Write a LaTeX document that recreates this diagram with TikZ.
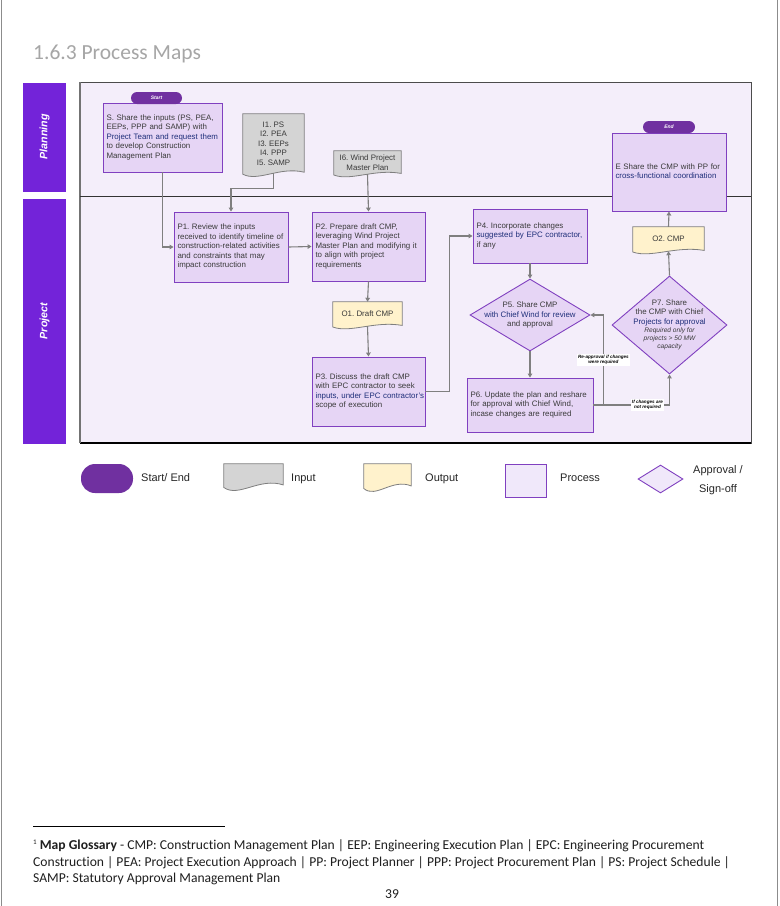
\documentclass[tikz,border=0pt]{standalone}
\usepackage{fontspec}
\setmainfont{Liberation Sans}
\newfontfamily\aptos[Ligatures=NoCommon]{Carlito}
\usetikzlibrary{shapes.geometric,arrows.meta,calc}
\frenchspacing
\definecolor{lanec}{HTML}{7323D9}
\definecolor{pillc}{HTML}{7030A0}
\definecolor{framec}{HTML}{F4EEFA}
\definecolor{boxc}{HTML}{E6D5F5}
\definecolor{boxb}{HTML}{8040C0}
\definecolor{docg}{HTML}{D4D4D4}
\definecolor{docb}{HTML}{7F7F7F}
\definecolor{outc}{HTML}{FFF2CC}
\definecolor{arrc}{HTML}{7F7F7F}
\definecolor{txtc}{HTML}{3A3A3A}
\definecolor{navy}{HTML}{1F2F7A}
\definecolor{titlec}{HTML}{A6A6A6}
\definecolor{legbox}{HTML}{F0E8FA}
\pgfdeclarelayer{back}
\pgfdeclarelayer{bg}
\pgfsetlayers{back,bg,main}
\newcommand{\txtlines}[1]{\begin{tabular}{@{}l@{}}#1\end{tabular}}
\newcommand{\docshape}[4]{%
  \begin{pgfonlayer}{bg}
  \filldraw[fill=#2, draw=#3, line width=0.8pt]
    (#1.north west) -- ([yshift=-1*#4pt]#1.south west)
    .. controls ([yshift=-9*#4pt]$(#1.south west)!0.25!(#1.south east)$)
    and ([yshift=7*#4pt]$(#1.south west)!0.6!(#1.south east)$)
    .. ([yshift=1*#4pt]#1.south east) -- (#1.north east) -- cycle;
  \end{pgfonlayer}}
\tikzset{
  conn/.style={draw=arrc, line width=1.1pt, -{Triangle[width=4.5pt,length=4pt]}},
  proc/.style={rectangle, draw=boxb, fill=boxc, line width=0.9pt, inner xsep=3.5pt, inner ysep=0pt,
    align=left, font=\fontsize{7.9}{9.5}\selectfont, text=txtc},
  docnode/.style={rectangle, inner sep=0pt, align=center, font=\fontsize{7.9}{9.5}\selectfont, text=txtc},
  dia/.style={diamond, draw=boxb, fill=boxc, line width=0.9pt, inner sep=0pt},
  dtext/.style={align=center, font=\fontsize{7.9}{9.5}\selectfont, text=txtc},
  pill/.style={rectangle, rounded corners=6pt, fill=pillc, inner sep=0pt,
    font=\fontsize{5}{6}\selectfont\bfseries\itshape, text=white},
  lanetxt/.style={font=\fontsize{10.7}{12}\selectfont\bfseries\itshape, text=white, rotate=90},
  edgelbl/.style={fill=white, inner sep=0.8pt, font=\fontsize{4.6}{5.4}\selectfont\bfseries\itshape,
    align=center, text=black},
  legtxt/.style={font=\fontsize{11}{19}\selectfont, text=black!85, align=center},
  foot/.style={anchor=base west, inner sep=0pt, font=\aptos\fontsize{13.6}{16}\selectfont, text=black!88}
}
\begin{document}
\begin{tikzpicture}[x=1pt,y=-1pt]
\useasboundingbox (0,0) rectangle (780,906);
\begin{pgfonlayer}{back}
\fill[white] (0,0) rectangle (780,906);
\draw[black!45, line width=1.2pt] (1.5,0) -- (1.5,906);
\draw[black!45, line width=1.2pt] (777.5,0) -- (777.5,906);
\fill[framec] (80,82) rectangle (751,443);
\draw[black!70, line width=0.9pt] (80,82) rectangle (751,443);
\draw[black, line width=1.5pt] (80,443) -- (751,443);
\draw[black!55, line width=2pt] (80,82) -- (80,443);
\draw[black!80, line width=1pt] (80,196) -- (751,196);
\fill[lanec] (23,83) rectangle (66,192);
\fill[lanec] (23,199) rectangle (66,444);
\end{pgfonlayer}

% title
\node[anchor=base west, inner sep=0pt, font=\aptos\fontsize{21.5}{24}\selectfont, text=titlec] (title) at (33,59) {1.6.3 Process Maps};

\node[lanetxt] (lplan) at (44.5,137) {Planning};
\node[lanetxt] (lproj) at (44.5,321) {Project};

% process boxes
\node[proc, text width=112pt, minimum height=69pt] (s) at (162.5,137.5)
  {\txtlines{S. Share the inputs (PS, PEA,\\EEPs, PPP and SAMP) with\\\textcolor{navy}{Project Team and request them}\\to develop Construction\\Management Plan}};
\node[pill, minimum width=51pt, minimum height=12pt] (start) at (156.5,98) {Start};

\node[docnode, minimum width=61pt, minimum height=59pt] (i1) at (273.5,143.5)
  {I1. PS\\I2. PEA\\I3. EEPs\\I4. PPP\\I5. SAMP};
\docshape{i1}{docg}{docb}{1}

\node[docnode, minimum width=67pt, minimum height=23pt] (i6) at (367.5,162.5)
  {I6. Wind Project\\Master Plan};
\docshape{i6}{docg}{docb}{0.8}

\node[proc, text width=107pt, minimum height=70pt] (p1) at (231,247)
  {\txtlines{P1. Review the inputs\\received to identify timeline of\\construction-related activities\\and constraints that may\\impact construction}};
\node[proc, text width=106pt, minimum height=69pt] (p2) at (368.5,246.5)
  {\txtlines{P2. Prepare draft CMP,\\leveraging Wind Project\\Master Plan and modifying it\\to align with project\\requirements}};

\node[docnode, minimum width=69pt, minimum height=24pt] (o1) at (367.5,314)
  {O1. Draft CMP};
\docshape{o1}{outc}{docb}{0.8}

\node[proc, text width=106pt, minimum height=69pt] (p3) at (368.5,391.5)
  {\txtlines{P3. Discuss the draft CMP\\with EPC contractor to seek\\\textcolor{navy}{inputs, under EPC contractor's}\\scope of execution}};
\node[proc, text width=107pt, minimum height=54pt] (p4) at (530,236)
  {\txtlines{P4. Incorporate changes\\\textcolor{navy}{suggested by EPC contractor,}\\if any}};

\node[dia, minimum width=120pt, minimum height=72pt,
  label={[dtext]center:{P5. Share CMP\\\textcolor{navy}{with Chief Wind for review}\\and approval}}] (p5) at (530,315) {};

\node[proc, text width=119pt, minimum height=54pt] (p6) at (530,405)
  {\txtlines{P6. Update the plan and reshare\\for approval with Chief Wind,\\incase changes are required}};

\node[dia, minimum width=115pt, minimum height=98pt,
  label={[dtext]center:{P7. Share\\the CMP with Chief\\\textcolor{navy}{Projects for approval}\\[-1pt]{\fontsize{6.6}{8}\selectfont\itshape Required only for}\\[-1.5pt]{\fontsize{6.6}{8}\selectfont\itshape projects > 50 MW}\\[-1.5pt]{\fontsize{6.6}{8}\selectfont\itshape capacity}}}] (p7) at (669.5,325) {};

\node[docnode, minimum width=71pt, minimum height=24pt] (o2) at (668.5,239)
  {O2. CMP};
\docshape{o2}{outc}{docb}{0.8}

\node[proc, text width=107pt, minimum height=78pt] (e) at (669,172)
  {\txtlines{E Share the CMP with PP for\\\textcolor{navy}{cross-functional coordination}}};
\node[pill, minimum width=52pt, minimum height=12pt] (end) at (669,127) {End};

% connectors
\draw[conn] (s.south) |- (p1.west);
\draw[conn] (i1.south) -- ++(0,15) -| (p1.north);
\draw[conn] (p1.east) -- (p2.west);
\draw[conn] (i6.south) -- (p2.north);
\draw[conn] (p2.south) -- (o1.north);
\draw[conn] (o1.south) -- (p3.north);
\draw[conn] (p3.east) -- ++(24,0) |- (p4.west);
\draw[conn] (p4.south) -- (p5.north);
\draw[conn] (p5.south) -- (p6.north);
\draw[conn] (p6.east) -- ++(10,0) |- node[edgelbl, pos=0.25] (lre) {Re-approval if changes\\were required} (p5.east);
\draw[conn] (p6.east) -| node[edgelbl, pos=0.355] (lnot) {If changes are\\not required} (p7.south);
\draw[conn] (p7.north) -- (o2.south);
\draw[conn] (o2.north) -- (e.south);

% legend
\node[rectangle, rounded corners=14pt, fill=pillc, minimum width=52pt, minimum height=29pt, inner sep=0pt] (legse) at (107,478.5) {};
\node[legtxt, anchor=base west, inner sep=0pt] (legset) at (141,481) {Start/ End};
\node[docnode, minimum width=59pt, minimum height=22pt] (legin) at (253.5,475) {};
\docshape{legin}{docg}{docb}{1.3}
\node[legtxt, anchor=base west, inner sep=0pt] (legint) at (291,481) {Input};
\node[docnode, minimum width=47pt, minimum height=23pt] (legout) at (387.5,475.5) {};
\docshape{legout}{outc}{docb}{1.3}
\node[legtxt, anchor=base west, inner sep=0pt] (legoutt) at (425,481) {Output};
\node[rectangle, draw=boxb, fill=legbox, line width=0.9pt, minimum width=41pt, minimum height=33pt, inner sep=0pt] (legpr) at (525.5,480.5) {};
\node[legtxt, anchor=base west, inner sep=0pt] (legprt) at (560,481) {Process};
\node[diamond, draw=boxb, fill=legbox, line width=0.9pt, minimum width=45pt, minimum height=28pt, inner sep=0pt] (legdia) at (660.5,479) {};
\node[legtxt, inner sep=0pt] (legdiat) at (718,480) {Approval /\\Sign-off};

% footnote
\draw[black, line width=0.6pt] (33,826) -- (225,826);
\node[foot] (fn1) at (33,849) {{\fontsize{7}{8}\selectfont\raisebox{5pt}{1}} \textbf{Map Glossary} - CMP: Construction Management Plan | EEP: Engineering Execution Plan | EPC: Engineering Procurement};
\node[foot] (fn2) at (33,866) {Construction | PEA: Project Execution Approach | PP: Project Planner | PPP: Project Procurement Plan | PS: Project Schedule |};
\node[foot] (fn3) at (33,882) {SAMP: Statutory Approval Management Plan};
\node[anchor=base, inner sep=0pt, font=\aptos\fontsize{13.6}{16}\selectfont, text=black!88] (pg) at (392,898) {39};
\end{tikzpicture}
\end{document}
